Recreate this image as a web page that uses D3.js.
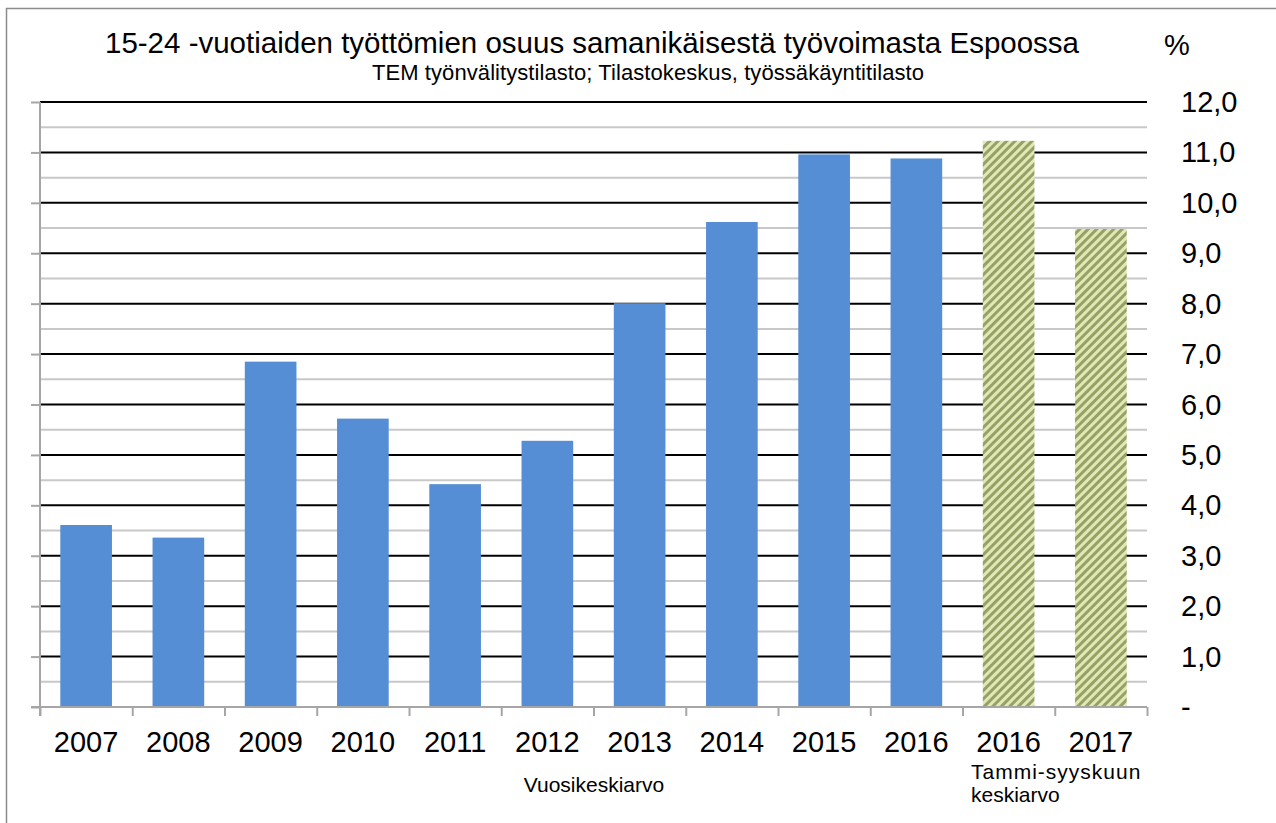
<!DOCTYPE html>
<html lang="fi">
    <head>
        <meta charset="utf-8">
        <title>Espoo nuorisotyöttömyys</title>
        <script type="text/javascript" src="https://d3js.org/d3.v7.min.js"></script>
        <style>
            body { margin: 0; background: #fff; }
            svg { display: block; font-family: "Liberation Sans", Arial, sans-serif; }
        </style>
    </head>
    <body>
        <script>
            // data
            const years = ["2007", "2008", "2009", "2010", "2011", "2012", "2013", "2014", "2015", "2016", "2016", "2017"];
            const values = [3.61, 3.36, 6.85, 5.72, 4.42, 5.28, 8.01, 9.62, 10.96, 10.88, 11.23, 9.48];
            const partial = [false, false, false, false, false, false, false, false, false, false, true, true];
            const yTicks = [0, 1, 2, 3, 4, 5, 6, 7, 8, 9, 10, 11, 12];

            const w = 1276;
            const h = 823;
            const plotLeft = 40, plotRight = 1147, plotTop = 102, plotBottom = 707;

            const svg = d3.select("body")
                        .append("svg")
                        .attr("width", w)
                        .attr("height", h);

            // hatch pattern for the partial-year bars
            const defs = svg.append("defs");
            const pat = defs.append("pattern")
                .attr("id", "hatch")
                .attr("patternUnits", "userSpaceOnUse")
                .attr("width", 6)
                .attr("height", 6)
                .attr("patternTransform", "rotate(45)");
            pat.append("rect").attr("width", 6).attr("height", 6).attr("fill", "#e2e7b8");
            pat.append("rect").attr("width", 3).attr("height", 6).attr("fill", "#95a263");

            // outer frame
            svg.append("rect")
               .attr("x", 6.5).attr("y", 8.5)
               .attr("width", 1300).attr("height", 900)
               .attr("fill", "none")
               .attr("stroke", "#8c8c8c")
               .attr("stroke-width", 1.5);

            const idx = d3.range(years.length);
            const xScale = d3.scaleBand()
                             .domain(idx)
                             .range([plotLeft, plotRight])
                             .paddingInner(0.44)
                             .paddingOuter(0.22);
            const yScale = d3.scaleLinear()
                             .domain([0, 12])
                             .range([plotBottom, plotTop]);

            // minor gridlines (half steps)
            svg.append("g")
               .selectAll("line")
               .data(d3.range(0.5, 12, 1))
               .enter()
               .append("line")
               .attr("x1", plotLeft).attr("x2", plotRight)
               .attr("y1", d => yScale(d)).attr("y2", d => yScale(d))
               .attr("stroke", "#c8c8c8")
               .attr("stroke-width", 2);

            // major gridlines
            svg.append("g")
               .selectAll("line")
               .data(yTicks.slice(1))
               .enter()
               .append("line")
               .attr("x1", plotLeft).attr("x2", plotRight)
               .attr("y1", d => yScale(d)).attr("y2", d => yScale(d))
               .attr("stroke", "#000")
               .attr("stroke-width", 2);

            // bars
            svg.append("g")
               .selectAll("rect")
               .data(idx)
               .enter()
               .append("rect")
               .attr("x", i => xScale(i))
               .attr("y", i => yScale(values[i]))
               .attr("width", xScale.bandwidth())
               .attr("height", i => yScale(0) - yScale(values[i]))
               .attr("fill", i => partial[i] ? "url(#hatch)" : "#558ed5");

            // left axis line with ticks at the left
            const yAxis = d3.axisLeft(yScale)
                            .tickValues(yTicks)
                            .tickSize(9)
                            .tickFormat("");
            const gy = svg.append("g")
               .attr("transform", "translate(" + plotLeft + ",0)")
               .call(yAxis);
            gy.selectAll("path, line").attr("stroke", "#a6a6a6").attr("stroke-width", 2);
            gy.select(".domain").attr("d", "M0," + (plotBottom + 9) + "V" + plotTop);

            // right tick labels
            svg.append("g")
               .selectAll("text")
               .data(yTicks)
               .enter()
               .append("text")
               .attr("x", 1181)
               .attr("y", d => yScale(d) + 10)
               .attr("font-size", "29px")
               .attr("fill", "#000")
               .text(d => d === 0 ? "-" : d3.format(".1f")(d).replace(".", ","));

            // x axis
            const xTickScale = d3.scaleLinear().domain([0, years.length]).range([plotLeft, plotRight]);
            const xAxis = d3.axisBottom(xTickScale)
                            .tickValues(d3.range(0, years.length + 1))
                            .tickSize(9)
                            .tickFormat("");
            const gx = svg.append("g")
               .attr("transform", "translate(0," + plotBottom + ")")
               .call(xAxis);
            gx.selectAll("path, line").attr("stroke", "#a6a6a6").attr("stroke-width", 2);
            gx.select(".domain").attr("d", "M" + (plotLeft - 9) + ",0H" + plotRight);

            svg.append("g")
               .selectAll("text")
               .data(idx)
               .enter()
               .append("text")
               .attr("x", i => xScale(i) + xScale.bandwidth() / 2)
               .attr("y", 752)
               .attr("text-anchor", "middle")
               .attr("font-size", "29px")
               .text(i => years[i]);

            // group labels
            svg.append("text")
               .attr("x", 594).attr("y", 792)
               .attr("text-anchor", "middle")
               .attr("font-size", "21px")
               .text("Vuosikeskiarvo");
            svg.append("text")
               .attr("x", 971).attr("y", 779)
               .attr("font-size", "21px")
               .attr("letter-spacing", "1px")
               .text("Tammi-syyskuun");
            svg.append("text")
               .attr("x", 971).attr("y", 802)
               .attr("font-size", "21px")
               .text("keskiarvo");

            // titles
            svg.append("text")
               .attr("x", 592).attr("y", 53)
               .attr("text-anchor", "middle")
               .attr("font-size", "29.5px")
               .text("15-24 -vuotiaiden työttömien osuus samanikäisestä työvoimasta Espoossa");
            svg.append("text")
               .attr("x", 372).attr("y", 80)
               .attr("font-size", "22px")
               .attr("textLength", 552)
               .text("TEM työnvälitystilasto; Tilastokeskus, työssäkäyntitilasto");
            svg.append("text")
               .attr("x", 1164).attr("y", 55)
               .attr("font-size", "29px")
               .text("%");
        </script>
    </body>
</html>
